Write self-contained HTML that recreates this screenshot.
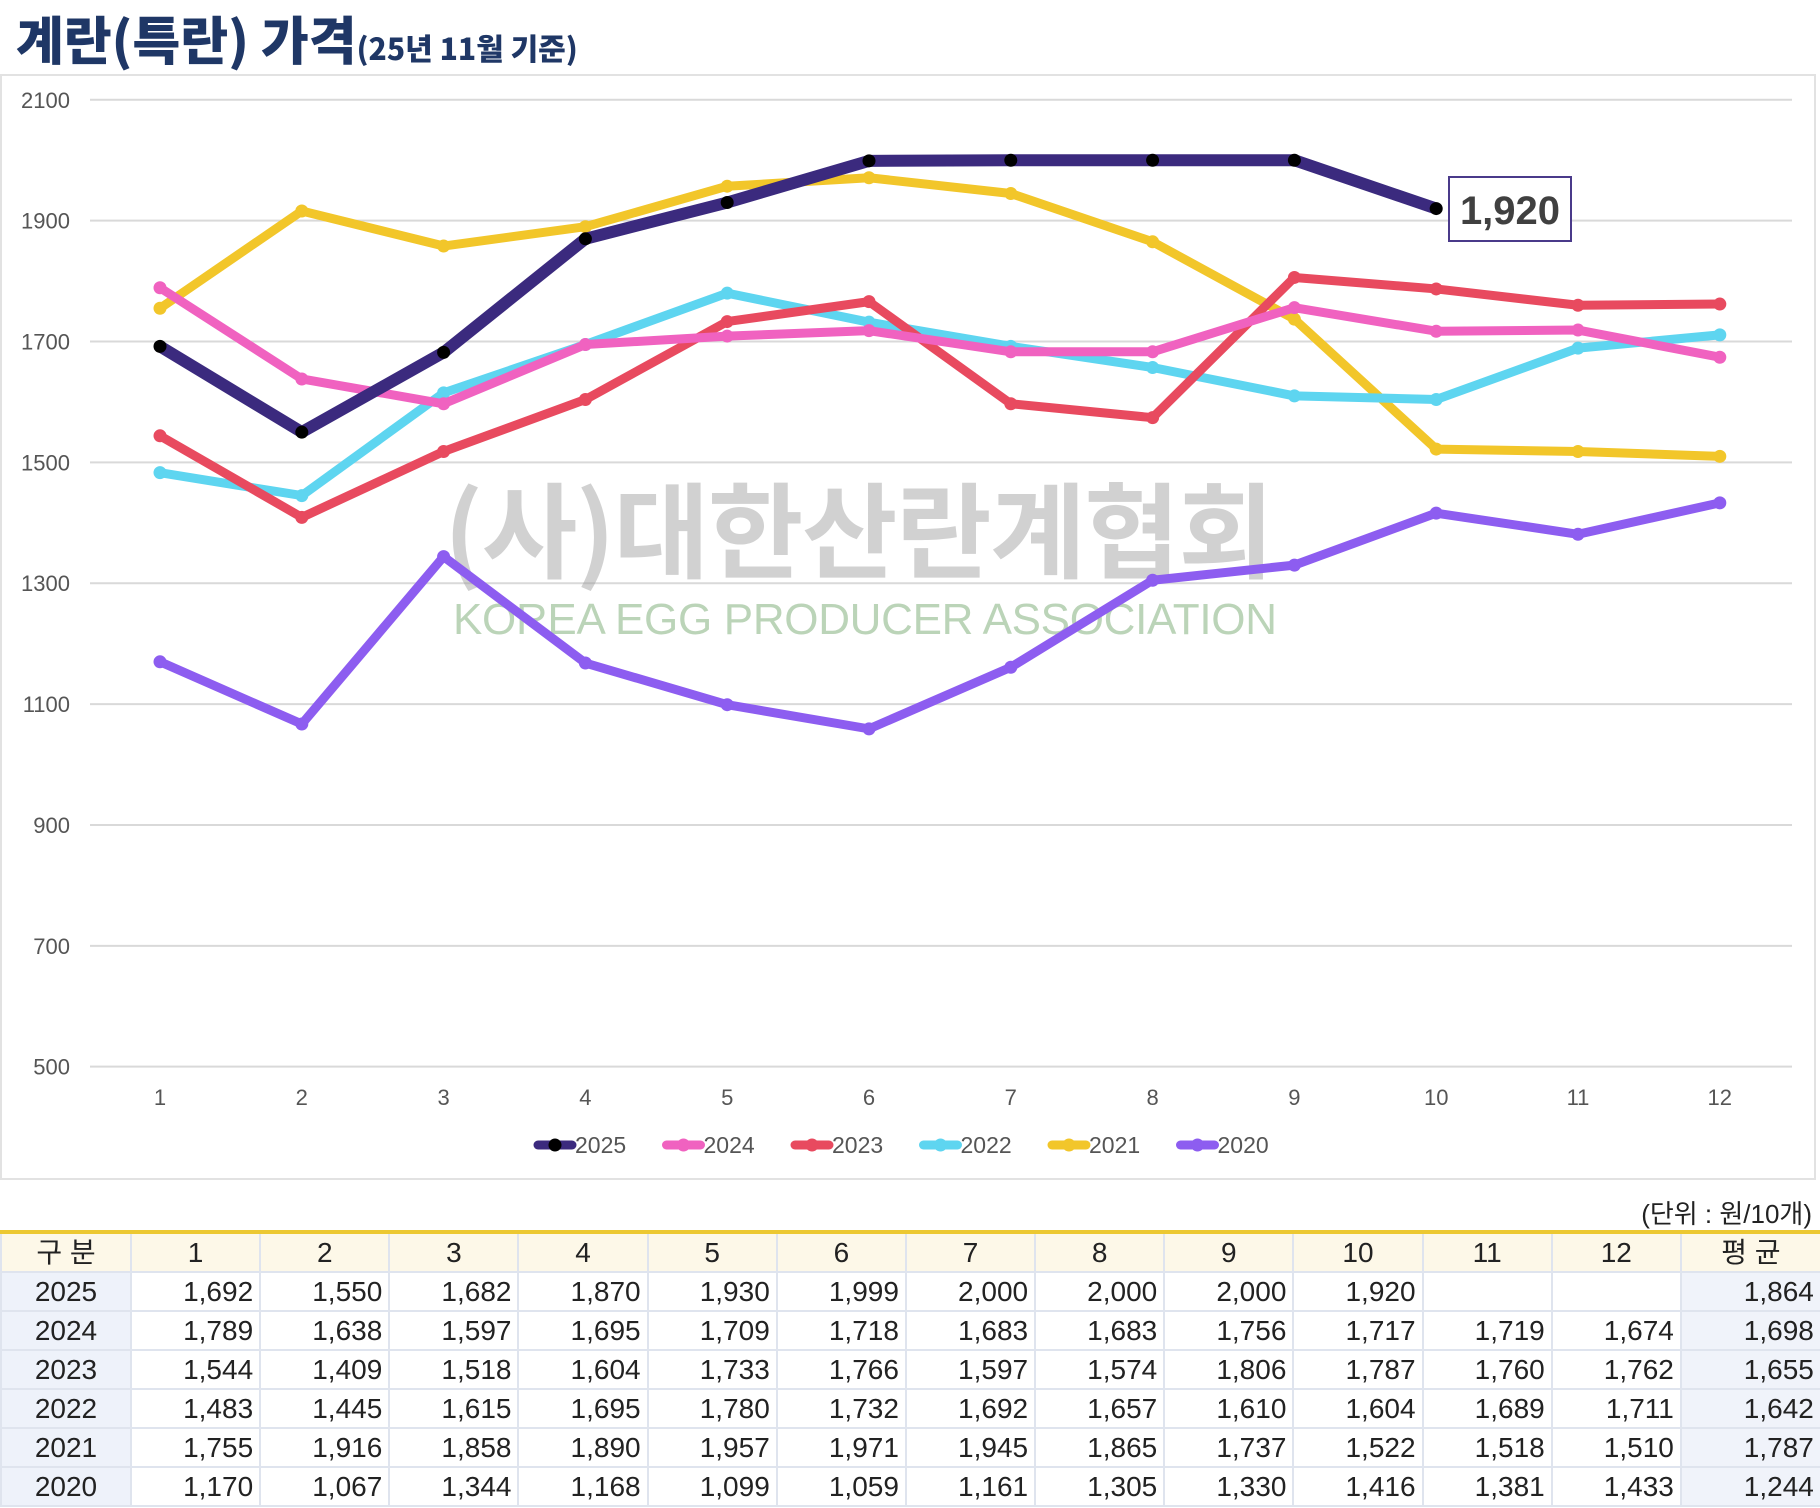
<!DOCTYPE html>
<html><head><meta charset="utf-8"><style>
body{margin:0;width:1820px;height:1508px;background:#fff;overflow:hidden;position:relative;font-family:"Liberation Sans","Noto Sans CJK KR",sans-serif}
#title{position:absolute;left:16px;top:0px;color:#1f3766;font-weight:bold;font-family:"Noto Sans CJK KR",sans-serif;white-space:nowrap}
#title .a{font-size:52px;font-weight:900;letter-spacing:0px}
#title .b{font-size:30px;font-weight:900}
#frame{position:absolute;left:0;top:74px;width:1816px;height:1106px;border:2px solid #e2e2e2;box-sizing:border-box}
svg{position:absolute;left:0;top:0}
#unit{position:absolute;right:8px;top:1194px;font-size:26px;color:#222;font-family:"Liberation Sans","Noto Sans CJK KR",sans-serif}
table{position:absolute;left:0;top:1230px;width:1820px;border-collapse:collapse;border-top:4px solid #ecc832;table-layout:fixed}
td{height:37px;border:2px solid #dfe4ee;font-size:28px;color:#222;text-align:right;padding:0 6px 0 0;line-height:1}
tr.h td{background:#fdf8e8;text-align:center;padding:0}
td.c{background:#eef2fa;text-align:center;padding:0}
td.avg{background:#f0f3fa}
</style></head><body>
<div id="title"><span class="a">계란(특란) 가격</span><span class="b">(25년 11월 기준)</span></div>
<div id="frame"></div>
<svg id="s" width="1820" height="1508"></svg>
<div id="unit">(단위 : 원/10개)</div>
<table id="t"></table>
<script>
var data={
2025:[1692,1550,1682,1870,1930,1999,2000,2000,2000,1920],
2024:[1789,1638,1597,1695,1709,1718,1683,1683,1756,1717,1719,1674],
2023:[1544,1409,1518,1604,1733,1766,1597,1574,1806,1787,1760,1762],
2022:[1483,1445,1615,1695,1780,1732,1692,1657,1610,1604,1689,1711],
2021:[1755,1916,1858,1890,1957,1971,1945,1865,1737,1522,1518,1510],
2020:[1170,1067,1344,1168,1099,1059,1161,1305,1330,1416,1381,1433]};
var avg={2025:1864,2024:1698,2023:1655,2022:1642,2021:1787,2020:1244};
var col={2025:"#3b2a7e",2024:"#f062c0",2023:"#e84a5f",2022:"#5ed5f0",2021:"#f2c62a",2020:"#8d5df0"};
function X(m){return 160+(m-1)*141.8}
function Y(v){return 99.8+(2100-v)*0.6043}
var s='';
for(var v=500;v<=2100;v+=200){var y=Y(v);
s+='<line x1="90" x2="1792" y1="'+y+'" y2="'+y+'" stroke="#d9d9d9" stroke-width="2"/>';
s+='<text x="70" y="'+(y+8)+'" text-anchor="end" font-size="22" fill="#555" font-family="Liberation Sans,sans-serif">'+v+'</text>';}
for(var m=1;m<=12;m++)s+='<text x="'+X(m)+'" y="1105" text-anchor="middle" font-size="22" fill="#555" font-family="Liberation Sans,sans-serif">'+m+'</text>';
s+='<text x="859" y="570" text-anchor="middle" font-size="104" font-weight="bold" fill="#9a9a9a" opacity="0.45" font-family="Noto Sans CJK KR,sans-serif" textLength="830">(사)대한산란계협회</text>';
s+='<text x="865" y="634" text-anchor="middle" font-size="44" fill="#8fb88a" opacity="0.6" font-family="Liberation Sans,sans-serif" textLength="824">KOREA EGG PRODUCER ASSOCIATION</text>';
[2020,2021,2022,2023,2024,2025].forEach(function(yr){
var p=data[yr].map(function(v,i){return X(i+1)+','+Y(v)}).join(' ');
s+='<polyline points="'+p+'" fill="none" stroke="'+col[yr]+'" stroke-width="'+(yr==2025?12:9)+'" stroke-linejoin="round" stroke-linecap="round"/>';
data[yr].forEach(function(v,i){s+='<circle cx="'+X(i+1)+'" cy="'+Y(v)+'" r="6.5" fill="'+(yr==2025?'#000':col[yr])+'"/>';});
});
s+='<rect x="1449" y="177" width="122" height="64" fill="#fff" stroke="#4a3a8a" stroke-width="2"/>';
s+='<text x="1510" y="224" text-anchor="middle" font-size="40" font-weight="bold" fill="#404040" font-family="Liberation Sans,sans-serif">1,920</text>';
var lx=534,yrs=[2025,2024,2023,2022,2021,2020];
yrs.forEach(function(yr,i){var x=lx+i*128.5,y=1145;
s+='<line x1="'+(x+4)+'" x2="'+(x+38)+'" y1="'+y+'" y2="'+y+'" stroke="'+col[yr]+'" stroke-width="9" stroke-linecap="round"/>';
s+='<circle cx="'+(x+21)+'" cy="'+y+'" r="6.5" fill="'+(yr==2025?'#000':col[yr])+'"/>';
s+='<text x="'+(x+41)+'" y="'+(y+8)+'" font-size="23" fill="#555" font-family="Liberation Sans,sans-serif">'+yr+'</text>';});
document.getElementById('s').innerHTML=s;
function f(v){return v==null?'':v.toLocaleString('en-US')}
var t='<colgroup><col style="width:130px">';for(var i=0;i<12;i++)t+='<col style="width:129.17px">';t+='<col style="width:140px"></colgroup>';
t+='<tr class="h"><td>구 분</td>';for(var m=1;m<=12;m++)t+='<td>'+m+'</td>';t+='<td>평 균</td></tr>';
yrs.forEach(function(yr){t+='<tr><td class="c">'+yr+'</td>';for(var m=0;m<12;m++)t+='<td>'+f(data[yr][m])+'</td>';t+='<td class="avg">'+f(avg[yr])+'</td></tr>';});
document.getElementById('t').innerHTML=t;
</script>
</body></html>
